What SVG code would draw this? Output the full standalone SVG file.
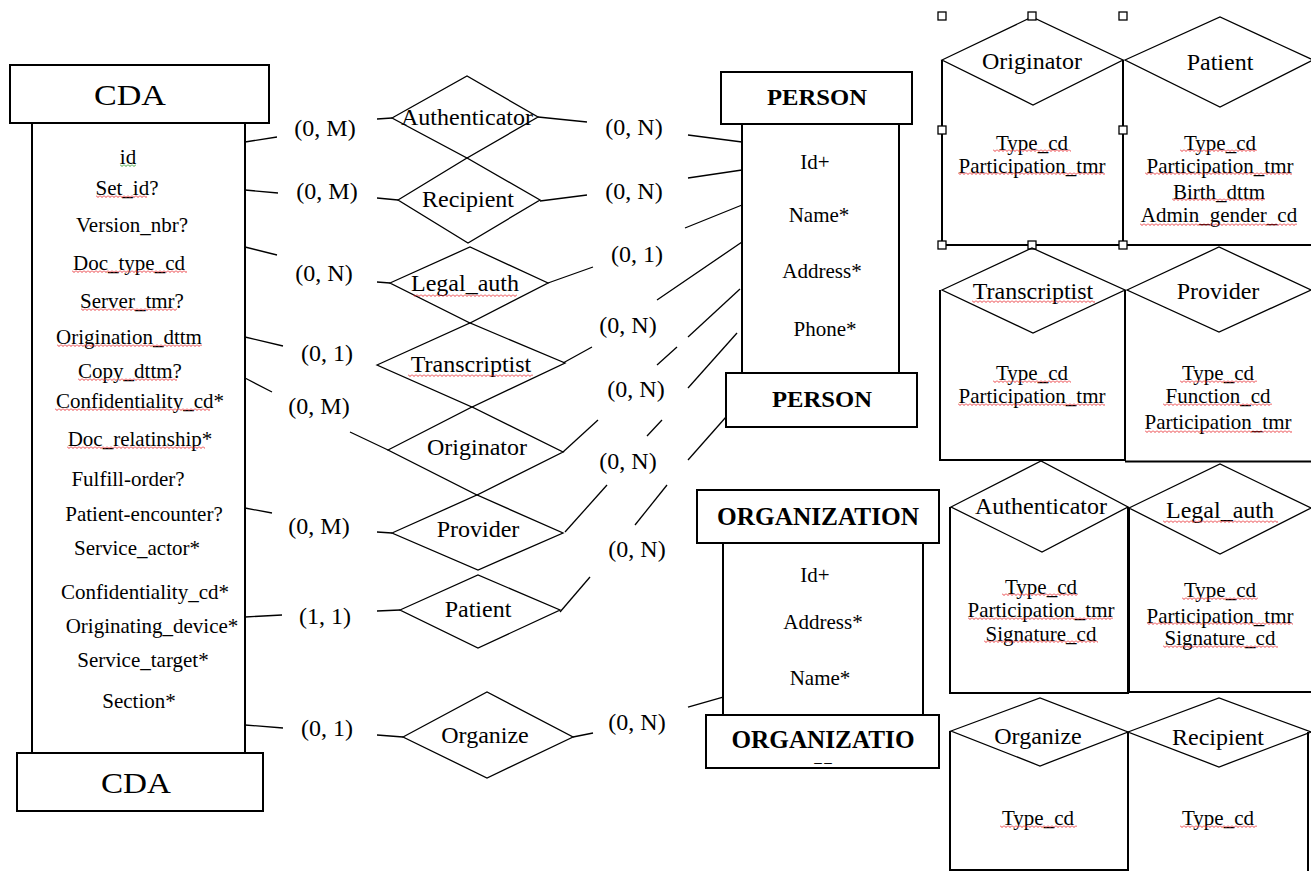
<svg xmlns="http://www.w3.org/2000/svg" width="1311" height="871" viewBox="0 0 1311 871">
<style>
.bx{fill:none;stroke:#000;stroke-width:2}
.ln{fill:none;stroke:#000;stroke-width:1.3}
.dm{fill:none;stroke:#000;stroke-width:1.3}
.hd{fill:#fff;stroke:#000;stroke-width:1.3}
text{font-family:"Liberation Serif","Times New Roman",serif;fill:#000;text-anchor:middle;dominant-baseline:central}
.a{font-size:21px}
.c{font-size:24px}
.d{font-size:24px}
.big{font-size:30px}
.bt{font-size:24px;font-weight:bold}
.bo{font-size:25px;font-weight:bold}
</style>
<defs>
<pattern id="wr" width="4" height="3" patternUnits="userSpaceOnUse"><path d="M0,0.5 L2,2.5 L4,0.5" fill="none" stroke="#e8262a" stroke-width="0.9"/></pattern>
<pattern id="wg" width="4" height="3" patternUnits="userSpaceOnUse"><path d="M0,0.5 L2,2.5 L4,0.5" fill="none" stroke="#2a9d2a" stroke-width="0.9"/></pattern>
</defs>
<rect width="1311" height="871" fill="#fff"/>

<g id="cda">
<rect class="bx" x="10" y="65" width="259" height="58"/>
<text class="big" x="130" y="94" textLength="72" lengthAdjust="spacingAndGlyphs">CDA</text>
<path class="bx" d="M32,123 V752 M245,123 V753"/>
<rect class="bx" x="17" y="753" width="246" height="58"/>
<text class="big" x="136" y="782" textLength="70" lengthAdjust="spacingAndGlyphs">CDA</text>
<text class="a" x="128" y="157">id</text>
<text class="a" x="127" y="188">Set_id?</text>
<text class="a" x="132" y="225">Version_nbr?</text>
<text class="a" x="129" y="263">Doc_type_cd</text>
<text class="a" x="132" y="301">Server_tmr?</text>
<text class="a" x="129" y="337">Origination_dttm</text>
<text class="a" x="130" y="371">Copy_dttm?</text>
<text class="a" x="140" y="401">Confidentiality_cd*</text>
<text class="a" x="140" y="439">Doc_relatinship*</text>
<text class="a" x="128" y="479">Fulfill-order?</text>
<text class="a" x="144" y="514">Patient-encounter?</text>
<text class="a" x="137" y="548">Service_actor*</text>
<text class="a" x="145" y="592">Confidentiality_cd*</text>
<text class="a" x="152" y="626">Originating_device*</text>
<text class="a" x="143" y="660">Service_target*</text>
<text class="a" x="139" y="701">Section*</text>
<rect x="0" y="0" width="16" height="3" fill="url(#wg)" transform="translate(120,164)"/>
<rect x="0" y="0" width="51" height="3" fill="url(#wr)" transform="translate(96,195)"/>
<rect x="0" y="0" width="115" height="3" fill="url(#wr)" transform="translate(72,270)"/>
<rect x="0" y="0" width="96" height="3" fill="url(#wr)" transform="translate(81,308)"/>
<rect x="0" y="0" width="145" height="3" fill="url(#wr)" transform="translate(57,344)"/>
<rect x="0" y="0" width="99" height="3" fill="url(#wr)" transform="translate(78,378)"/>
<rect x="0" y="0" width="155" height="3" fill="url(#wr)" transform="translate(55,408)"/>
<rect x="0" y="0" width="138" height="3" fill="url(#wr)" transform="translate(67,446)"/>
</g>

<g id="person">
<rect class="bx" x="721" y="72" width="191" height="52"/>
<text class="bt" x="817" y="97" textLength="100" lengthAdjust="spacingAndGlyphs">PERSON</text>
<path class="bx" d="M742,124 V373 M899,124 V373"/>
<rect class="bx" x="726" y="373" width="191" height="54"/>
<text class="bt" x="822" y="399" textLength="100" lengthAdjust="spacingAndGlyphs">PERSON</text>
<text class="a" x="815" y="162">Id+</text>
<text class="a" x="819" y="215">Name*</text>
<text class="a" x="822" y="271">Address*</text>
<text class="a" x="825" y="329">Phone*</text>
</g>

<g id="organization">
<rect class="bx" x="697" y="490" width="242" height="53"/>
<text class="bo" x="818" y="516" textLength="202" lengthAdjust="spacingAndGlyphs">ORGANIZATION</text>
<path class="bx" d="M723,543 V715 M923,543 V716"/>
<rect class="bx" x="706" y="715" width="233" height="53"/>
<text class="bo" x="823" y="739" textLength="183" lengthAdjust="spacingAndGlyphs">ORGANIZATIO</text>
<text x="823" y="762" style="font-size:11px;font-weight:bold" textLength="20" lengthAdjust="spacingAndGlyphs">--</text>
<text class="a" x="815" y="575">Id+</text>
<text class="a" x="823" y="622">Address*</text>
<text class="a" x="820" y="678">Name*</text>
</g>

<g id="rel-authenticator">
<polygon class="dm" points="392,118 467,76 538,117 467,158"/>
<text class="d" x="467" y="117">Authenticator</text>
</g>
<g id="rel-recipient">
<polygon class="dm" points="398,200 467,158 540,200 468,243"/>
<text class="d" x="468" y="199">Recipient</text>
</g>
<g id="rel-legal-auth">
<polygon class="dm" points="390,283 470,247 548,283 470,323"/>
<text class="d" x="465" y="283">Legal_auth</text>
<rect x="0" y="0" width="104" height="3" fill="url(#wr)" transform="translate(413,294)"/>
</g>
<g id="rel-transcriptist">
<polygon class="dm" points="377,365 470,323 565,363 472,407"/>
<text class="d" x="471" y="364">Transcriptist</text>
<rect x="0" y="0" width="125" height="3" fill="url(#wr)" transform="translate(408,374)"/>
</g>
<g id="rel-originator">
<polygon class="dm" points="388,450 472,407 563,452 477,495"/>
<text class="d" x="477" y="447">Originator</text>
</g>
<g id="rel-provider">
<polygon class="dm" points="392,533 477,495 563,533 478,570"/>
<text class="d" x="478" y="529">Provider</text>
</g>
<g id="rel-patient">
<polygon class="dm" points="400,610 478,575 560,610 478,648"/>
<text class="d" x="478" y="609">Patient</text>
</g>
<g id="rel-organize">
<polygon class="dm" points="403,737 487,692 573,737 487,778"/>
<text class="d" x="485" y="735">Organize</text>
</g>

<g id="connectors">
<path class="ln" d="M245,142 L277,137 M377,119 L392,118"/>
<path class="ln" d="M245,190 L278,193 M377,198 L398,200"/>
<path class="ln" d="M245,247 L277,255 M377,282 L390,283"/>
<path class="ln" d="M245,337 L283,346"/>
<path class="ln" d="M245,378 L272,392 M350,432 L388,450"/>
<path class="ln" d="M245,508 L272,513 M377,532 L392,533"/>
<path class="ln" d="M245,617 L282,615 M377,611 L400,610"/>
<path class="ln" d="M245,725 L283,728 M377,735 L403,737"/>
<path class="ln" d="M538,117 L587,122 M688,135 L742,142"/>
<path class="ln" d="M540,201 L587,195 M688,178 L742,170"/>
<path class="ln" d="M548,283 L593,267 M685,228 L742,205"/>
<path class="ln" d="M563,363 L592,347 M657,300 L742,242"/>
<path class="ln" d="M688,337 L740,289"/>
<path class="ln" d="M657,365 L677,347"/>
<path class="ln" d="M688,388 L737,333"/>
<path class="ln" d="M563,452 L598,420"/>
<path class="ln" d="M647,436 L662,420"/>
<path class="ln" d="M688,460 L726,417"/>
<path class="ln" d="M565,532 L607,485"/>
<path class="ln" d="M635,525 L667,485"/>
<path class="ln" d="M560,612 L590,577"/>
<path class="ln" d="M573,737 L593,733"/>
<path class="ln" d="M688,707 L723,697"/>
<text class="c" x="325" y="128">(0, M)</text>
<text class="c" x="327" y="191">(0, M)</text>
<text class="c" x="324" y="273">(0, N)</text>
<text class="c" x="327" y="353">(0, 1)</text>
<text class="c" x="319" y="406">(0, M)</text>
<text class="c" x="319" y="526">(0, M)</text>
<text class="c" x="325" y="616">(1, 1)</text>
<text class="c" x="327" y="728">(0, 1)</text>
<text class="c" x="634" y="127">(0, N)</text>
<text class="c" x="634" y="191">(0, N)</text>
<text class="c" x="637" y="254">(0, 1)</text>
<text class="c" x="628" y="325">(0, N)</text>
<text class="c" x="636" y="389">(0, N)</text>
<text class="c" x="628" y="461">(0, N)</text>
<text class="c" x="637" y="549">(0, N)</text>
<text class="c" x="637" y="722">(0, N)</text>
</g>

<g id="attr-originator">
<path class="bx" d="M942,60 V245 M1123,60 V245 M942,245 H1311"/>
<polygon class="dm" points="942,60 1032,17 1123,60 1033,105"/>
<text class="d" x="1032" y="61">Originator</text>
<text class="a" x="1032" y="143">Type_cd</text>
<text class="a" x="1032" y="166">Participation_tmr</text>
<rect x="0" y="0" width="78" height="3" fill="url(#wr)" transform="translate(993,149)"/>
<rect x="0" y="0" width="147" height="3" fill="url(#wr)" transform="translate(958,172)"/>
<rect class="hd" x="938" y="12" width="8" height="8"/>
<rect class="hd" x="1028" y="12" width="8" height="8"/>
<rect class="hd" x="1119" y="12" width="8" height="8"/>
<rect class="hd" x="938" y="126" width="8" height="8"/>
<rect class="hd" x="1119" y="126" width="8" height="8"/>
<rect class="hd" x="938" y="241" width="8" height="8"/>
<rect class="hd" x="1028" y="241" width="8" height="8"/>
<rect class="hd" x="1119" y="241" width="8" height="8"/>
</g>
<g id="attr-patient">
<polygon class="dm" points="1125,60 1220,17 1313,60 1220,107"/>
<text class="d" x="1220" y="62">Patient</text>
<text class="a" x="1220" y="143">Type_cd</text>
<text class="a" x="1220" y="166">Participation_tmr</text>
<text class="a" x="1219" y="192">Birth_dttm</text>
<text class="a" x="1219" y="215">Admin_gender_cd</text>
<rect x="0" y="0" width="77" height="3" fill="url(#wr)" transform="translate(1180,149)"/>
<rect x="0" y="0" width="147" height="3" fill="url(#wr)" transform="translate(1145,172)"/>
<rect x="0" y="0" width="93" height="3" fill="url(#wr)" transform="translate(1172,198)"/>
<rect x="0" y="0" width="157" height="3" fill="url(#wr)" transform="translate(1140,223)"/>
</g>
<g id="attr-transcriptist">
<path class="bx" d="M940,290 V460 H1125 V290"/>
<polygon class="dm" points="942,290 1032,248 1125,290 1033,333"/>
<text class="d" x="1033" y="291">Transcriptist</text>
<text class="a" x="1032" y="373">Type_cd</text>
<text class="a" x="1032" y="396">Participation_tmr</text>
<rect x="0" y="0" width="123" height="3" fill="url(#wr)" transform="translate(972,300)"/>
<rect x="0" y="0" width="78" height="3" fill="url(#wr)" transform="translate(993,380)"/>
<rect x="0" y="0" width="147" height="3" fill="url(#wr)" transform="translate(958,403)"/>
</g>
<g id="attr-provider">
<path class="bx" d="M1125,461.5 H1311"/>
<polygon class="dm" points="1127,290 1219,247 1311,290 1219,332"/>
<text class="d" x="1218" y="291">Provider</text>
<text class="a" x="1218" y="373">Type_cd</text>
<text class="a" x="1218" y="396">Function_cd</text>
<text class="a" x="1218" y="422">Participation_tmr</text>
<rect x="0" y="0" width="77" height="3" fill="url(#wr)" transform="translate(1180,380)"/>
<rect x="0" y="0" width="109" height="3" fill="url(#wr)" transform="translate(1163,403)"/>
<rect x="0" y="0" width="147" height="3" fill="url(#wr)" transform="translate(1145,430)"/>
</g>
<g id="attr-authenticator">
<path class="bx" d="M950,507 V693 H1128 V507"/>
<polygon class="dm" points="951,507 1041,461 1128,507 1042,552"/>
<text class="d" x="1041" y="506">Authenticator</text>
<text class="a" x="1041" y="587">Type_cd</text>
<text class="a" x="1041" y="610">Participation_tmr</text>
<text class="a" x="1041" y="634">Signature_cd</text>
<rect x="0" y="0" width="76" height="3" fill="url(#wr)" transform="translate(1002,593)"/>
<rect x="0" y="0" width="145" height="3" fill="url(#wr)" transform="translate(968,617)"/>
<rect x="0" y="0" width="114" height="3" fill="url(#wr)" transform="translate(984,640)"/>
</g>
<g id="attr-legal-auth">
<path class="bx" d="M1129,508 V692 H1311"/>
<polygon class="dm" points="1129,508 1220,464 1311,508 1220,554"/>
<text class="d" x="1220" y="510">Legal_auth</text>
<text class="a" x="1220" y="590">Type_cd</text>
<text class="a" x="1220" y="616">Participation_tmr</text>
<text class="a" x="1220" y="638">Signature_cd</text>
<rect x="0" y="0" width="115" height="3" fill="url(#wr)" transform="translate(1163,520)"/>
<rect x="0" y="0" width="76" height="3" fill="url(#wr)" transform="translate(1182,597)"/>
<rect x="0" y="0" width="146" height="3" fill="url(#wr)" transform="translate(1147,622)"/>
<rect x="0" y="0" width="115" height="3" fill="url(#wr)" transform="translate(1163,645)"/>
</g>
<g id="attr-organize">
<path class="bx" d="M950,731 V870 H1128 V732"/>
<polygon class="dm" points="951,731 1040,698 1128,732 1040,766"/>
<text class="d" x="1038" y="736">Organize</text>
<text class="a" x="1038" y="818">Type_cd</text>
<rect x="0" y="0" width="77" height="3" fill="url(#wr)" transform="translate(1000,825)"/>
</g>
<g id="attr-recipient">
<path class="bx" d="M1308,732 V871"/>
<polygon class="dm" points="1128,732 1219,698 1311,732 1219,767"/>
<text class="d" x="1218" y="737">Recipient</text>
<text class="a" x="1218" y="818">Type_cd</text>
<rect x="0" y="0" width="77" height="3" fill="url(#wr)" transform="translate(1180,825)"/>
</g>
</svg>
